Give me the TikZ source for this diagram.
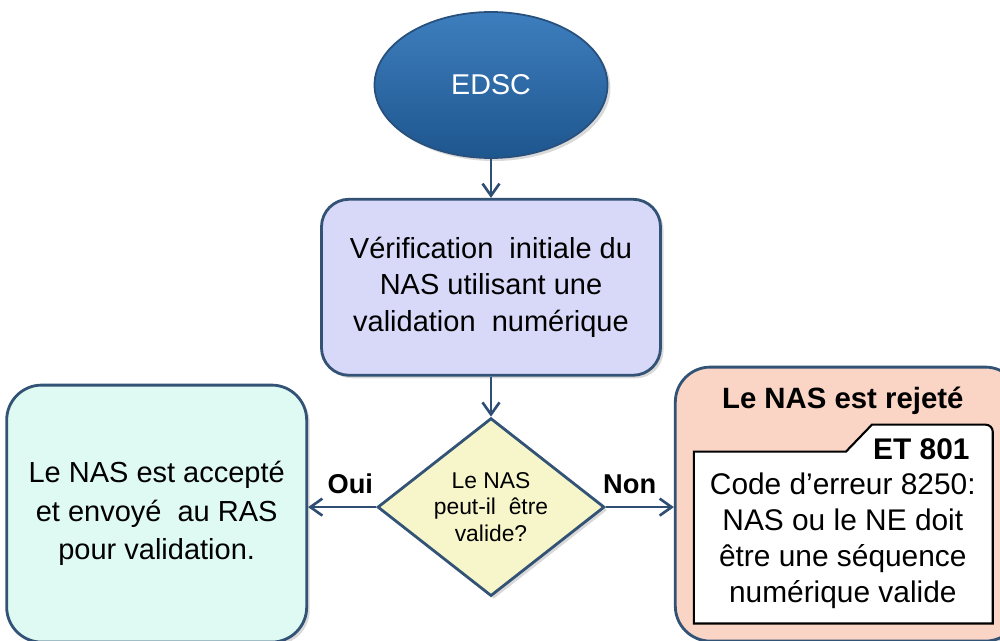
\documentclass[tikz,border=0pt]{standalone}
\usepackage{fontspec}
\setmainfont{Liberation Sans}
\definecolor{frame}{RGB}{50,82,118}
\definecolor{flowc}{RGB}{46,78,115}
\definecolor{edsctop}{RGB}{62,126,190}
\definecolor{edscbot}{RGB}{30,86,142}
\definecolor{edscline}{RGB}{40,80,125}
\definecolor{lavender}{RGB}{216,216,248}
\definecolor{pale}{RGB}{246,246,202}
\definecolor{mint}{RGB}{222,250,242}
\definecolor{peach}{RGB}{250,212,196}
\usetikzlibrary{arrows.meta,positioning,shapes.geometric,shadows,calc}

\begin{document}
\begin{tikzpicture}[
      softshadow/.style={drop shadow={shadow xshift=0.6mm, shadow yshift=-0.6mm,
        opacity=0.3}},
      startnode/.style={ellipse, draw=edscline, line width=1pt, top color=edsctop,
        bottom color=edscbot, text=white, minimum width=4.66cm,
        minimum height=2.92cm, inner sep=0pt, softshadow,
        font=\fontsize{16.3}{19}\selectfont},
      fbox/.style={draw=frame, line width=1.6pt, align=center, inner sep=0pt,
        softshadow},
      decbox/.style={diamond, draw=frame, line width=1.6pt, fill=pale, align=center,
        inner sep=0pt, shape aspect=1.27, minimum width=4.54cm, minimum height=3.56cm,
        softshadow, font=\fontsize{13}{15.2}\selectfont},
      flow/.style={-{Straight Barb[length=2.4mm, width=3.4mm]}, line width=1.5pt,
        color=flowc},
      ansr/.style={text=black, font=\fontsize{15.5}{18}\selectfont\bfseries},
      errtext/.style={align=center, font=\fontsize{17}{20.5}\selectfont},
    ]
    \useasboundingbox (0,0) rectangle (20,-12.82);
    \clip (0,0) rectangle (20,-12.82);

    \node[startnode] (edsc) at (9.82,-1.7) {EDSC};
    \node[fbox, fill=lavender, rounded corners=0.55cm, minimum width=6.78cm,
      minimum height=3.52cm, font=\fontsize{16.5}{21}\selectfont,
      below=0.78cm of edsc]
      (verif) {V\'erification\ \ initiale du\\NAS utilisant une\\validation\ \ num\'erique};
    \node[decbox, below=0.8cm of verif]
      (valide) {Le NAS\\peut-il\ \ \^etre\\valide?};
    \node[fbox, fill=mint, rounded corners=0.7cm, minimum width=6cm,
      minimum height=5.14cm, font=\fontsize{16.5}{22}\selectfont,
      left=1.36cm of valide, yshift=-0.13cm]
      (accepte) {Le NAS est accept\'e\\et envoy\'e\ \ au RAS\\pour validation.};
    \node[fbox, fill=peach, rounded corners=0.7cm, minimum width=6.9cm,
      minimum height=5.48cm, right=1.36cm of valide, yshift=0.06cm]
      (rejet) {};

    % contents of the rejected box
    \node[font=\fontsize{16.7}{20}\selectfont\bfseries, below=0.3cm of rejet.north,
      xshift=-0.1cm]
      (rejtitre) {Le NAS est rejet\'e};
    \draw[line width=1.2pt, fill=white]
      ($(rejet.south west)+(0.4,0.38)$) -- ($(rejet.north west)+(0.4,-1.72)$)
      -- ($(rejet.north west)+(3.44,-1.72)$) -- ($(rejet.north west)+(3.96,-1.18)$)
      [rounded corners=4pt] -- ($(rejet.north east)+(-0.58,-1.18)$)
      [sharp corners] -- ($(rejet.south east)+(-0.58,0.38)$) -- cycle;
    \node[font=\fontsize{17}{20}\selectfont\bfseries, anchor=east]
      (etcode) at ($(rejet.north east)+(-0.92,-1.68)$) {ET 801};
    \node[errtext] (errmsg) at ($(rejet.center)+(-0.1,-0.73)$)
      {Code d'erreur 8250:\\NAS ou le NE doit\\\^etre une s\'equence\\num\'erique valide};

    \draw[flow] (edsc.south) -- (verif.north);
    \draw[flow] (verif.south) -- (valide.north);
    \draw[flow] (valide.west) -- node[ansr, above=0.12cm, pos=0.38] {Oui}
      (valide.west -| accepte.east);
    \draw[flow] (valide.east) -- node[ansr, above=0.12cm, pos=0.35] {Non}
      (valide.east -| rejet.west);
  \end{tikzpicture}
\end{document}
